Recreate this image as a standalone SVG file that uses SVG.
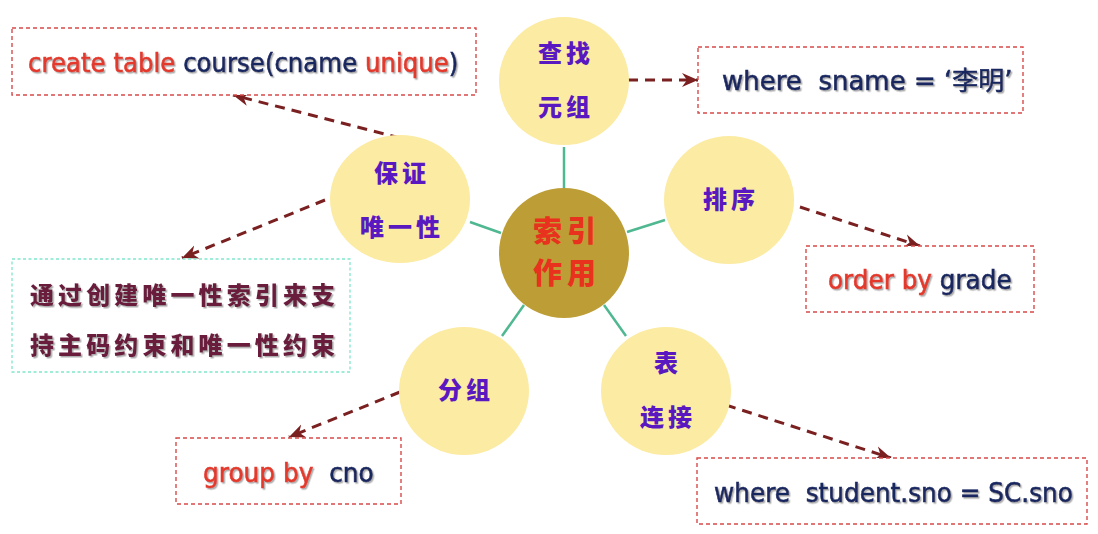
<svg xmlns="http://www.w3.org/2000/svg" width="1098" height="534" viewBox="0 0 1098 534">
<style>
.box{fill:#fff;stroke:#d84a4a;stroke-width:1.4;stroke-dasharray:4 3}
.cbox{fill:#fff;stroke:#80e6cc;stroke-width:1.3;stroke-dasharray:3 2.5}
.node{fill:#fceba3}
.hub{fill:#bd9d35}
.en{font-family:"DejaVu Sans","Noto Sans CJK SC",sans-serif;font-size:26px;white-space:pre;filter:url(#sh);stroke-width:0.6px}
.red{fill:#e3392b;stroke:#e3392b}
.navy{fill:#1a2860;stroke:#1a2860}
.nl{font-family:"Noto Sans CJK SC",sans-serif;font-weight:900;font-size:24px;fill:#5a18c0;text-anchor:middle;letter-spacing:4px}
.hl{font-family:"Noto Sans CJK SC",sans-serif;font-weight:900;font-size:29px;fill:#e8321e;text-anchor:middle;letter-spacing:5px}
.cn{font-family:"Noto Sans CJK SC",sans-serif;font-weight:900;font-size:24px;fill:#6a1a3c;filter:url(#sh)}
.solid{stroke:#4fb891;stroke-width:2.5;fill:none}
.dash{stroke:#7a2020;stroke-width:3;stroke-dasharray:10 7;fill:none;marker-end:url(#ah)}
</style>
<defs>
<filter id="sh" x="-5%" y="-20%" width="110%" height="150%">
<feDropShadow dx="1.5" dy="1.5" stdDeviation="0.7" flood-color="#8a8a8a" flood-opacity="0.7"/>
</filter>
<marker id="ah" markerUnits="userSpaceOnUse" markerWidth="18" markerHeight="16" refX="16" refY="7" orient="auto" viewBox="0 0 18 14">
<path d="M0,0 L16,7 L0,14 L5,7 Z" fill="#7a2020"/>
</marker>
</defs>
<rect width="1098" height="534" fill="#fff"/>

<g id="connectors">
<line class="solid" x1="564" y1="147" x2="564" y2="188"/>
<line class="solid" x1="627" y1="232" x2="665" y2="220"/>
<line class="solid" x1="470" y1="222" x2="501" y2="233"/>
<line class="solid" x1="524" y1="305" x2="502" y2="336"/>
<line class="solid" x1="604" y1="305" x2="626" y2="336"/>
<line class="dash" x1="400" y1="138" x2="233" y2="95"/>
<line class="dash" x1="325" y1="200" x2="182" y2="258"/>
<line class="dash" x1="628" y1="80" x2="698" y2="80"/>
<line class="dash" x1="800" y1="207" x2="920" y2="246"/>
<line class="dash" x1="400" y1="392" x2="289" y2="437"/>
<line class="dash" x1="726" y1="405" x2="891" y2="458"/>
</g>

<g id="hub">
<ellipse class="hub" cx="564" cy="253" rx="65" ry="65"/>
<text class="hl" x="567" y="242">索引</text>
<text class="hl" x="567" y="284">作用</text>
</g>

<g id="n-find">
<ellipse class="node" cx="564" cy="81" rx="65" ry="64"/>
<text class="nl" x="566" y="62">查找</text>
<text class="nl" x="566" y="116">元组</text>
</g>

<g id="n-sort">
<ellipse class="node" cx="729" cy="200" rx="65" ry="64"/>
<text class="nl" x="731" y="208">排序</text>
</g>

<g id="n-unique">
<ellipse class="node" cx="400" cy="199" rx="70" ry="64"/>
<text class="nl" x="402" y="182">保证</text>
<text class="nl" x="402" y="236">唯一性</text>
</g>

<g id="n-group">
<ellipse class="node" cx="464" cy="391" rx="65" ry="64"/>
<text class="nl" x="466" y="399">分组</text>
</g>

<g id="n-join">
<ellipse class="node" cx="666" cy="391" rx="65" ry="64"/>
<text class="nl" x="668" y="372">表</text>
<text class="nl" x="668" y="426">连接</text>
</g>

<g id="b-create">
<rect class="box" x="12" y="28" width="464" height="67"/>
<text class="en" transform="translate(28,72) scale(0.941,1)" x="0" y="0"><tspan class="red">create table </tspan><tspan class="navy">course(cname </tspan><tspan class="red">unique</tspan><tspan class="navy">)</tspan></text>
</g>

<g id="b-sname">
<rect class="box" x="698" y="47" width="325" height="66"/>
<text class="en navy" x="722" y="90">where  sname = ‘李明’</text>
</g>

<g id="b-order">
<rect class="box" x="806" y="246" width="228" height="66"/>
<text class="en" transform="translate(828,289) scale(0.95,1)" x="0" y="0"><tspan class="red">order by </tspan><tspan class="navy">grade</tspan></text>
</g>

<g id="b-join">
<rect class="box" x="697" y="458" width="390" height="66"/>
<text class="en navy" transform="translate(714,502) scale(0.952,1)" x="0" y="0">where  student.sno = SC.sno</text>
</g>

<g id="b-group">
<rect class="box" x="176" y="438" width="225" height="66"/>
<text class="en" transform="translate(203,482) scale(0.955,1)" x="0" y="0"><tspan class="red">group by  </tspan><tspan class="navy">cno</tspan></text>
</g>

<g id="b-note">
<rect class="cbox" x="12" y="259" width="338" height="113"/>
<text class="cn" x="30" y="304" textLength="305" lengthAdjust="spacing">通过创建唯一性索引来支</text>
<text class="cn" x="30" y="354" textLength="305" lengthAdjust="spacing">持主码约束和唯一性约束</text>
</g>
</svg>
